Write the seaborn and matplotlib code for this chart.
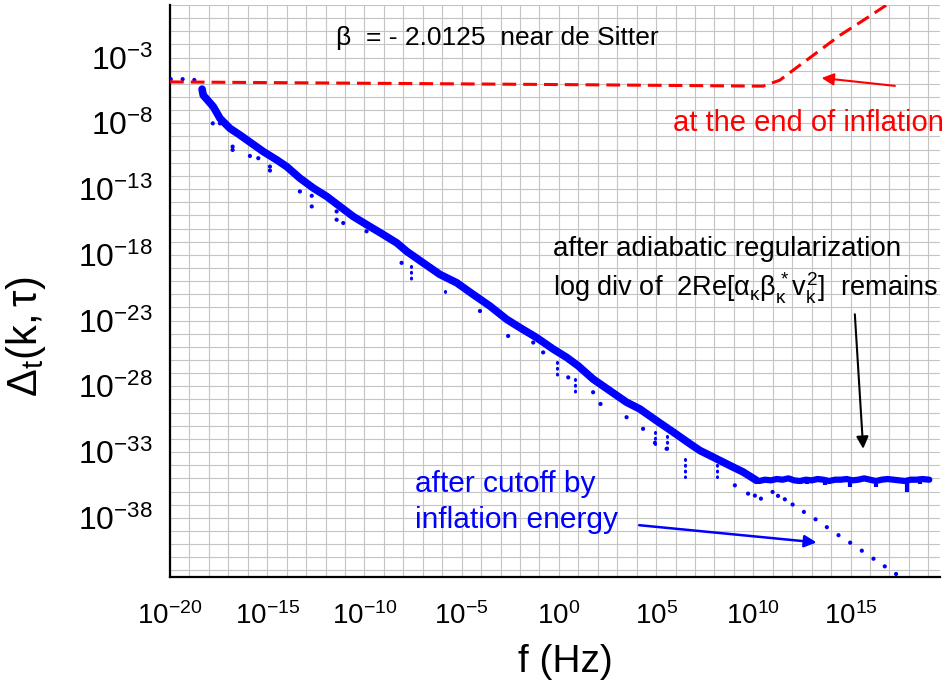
import numpy as np
import matplotlib
matplotlib.use("Agg")
import matplotlib.pyplot as plt
import seaborn as sns
from matplotlib.ticker import FixedLocator, FuncFormatter, NullFormatter

# all values are log10

# main blue band (centre of the dense cloud)
band_logf = [-18.35, -18.29, -17.77, -17.43, -16.92, -16.40, -15.80, -15.20, -14.51,
             -14.00, -13.32, -12.63, -11.94, -11.26, -10.58, -9.89, -9.03, -8.34,
             -7.83, -6.98, -6.12, -5.26, -4.41, -3.55, -2.69, -2.01, -1.15, -0.29,
             0.40, 0.99, 1.76, 2.62, 3.48, 4.16, 5.02, 5.88, 6.74, 7.25, 7.93,
             8.79, 9.48, 10.16]
band_logd = [-5.40, -5.86, -6.74, -7.62, -8.38, -8.89, -9.52, -10.15, -10.78,
             -11.29, -12.17, -12.92, -13.56, -14.32, -15.08, -15.70, -16.46, -17.09,
             -17.73, -18.61, -19.49, -20.12, -21.01, -21.89, -22.90, -23.53, -24.29, -25.17,
             -25.80, -26.44, -27.45, -28.33, -29.21, -29.72, -30.61, -31.48, -32.37, -32.88, -33.38,
             -34.02, -34.52, -35.15]

# flat part after adiabatic regularization
flat_logf = [10.3, 10.6, 10.9, 11.2, 11.5, 11.8, 12.1, 12.4, 12.7, 13.0, 13.3, 13.6,
             13.9, 14.2, 14.5, 14.8, 15.1, 15.4, 15.7, 16.0, 16.3, 16.6, 16.9, 17.2,
             17.5, 17.8, 18.1, 18.4, 18.7, 19.05]
flat_logd = [-35.20, -35.10, -35.15, -35.05, -35.10, -35.00, -35.15, -35.20, -35.10, -35.15,
             -35.05, -35.10, -35.20, -35.10, -35.10, -35.05, -35.15, -35.10, -35.00, -35.10,
             -35.20, -35.10, -35.05, -35.10, -35.15, -35.20, -35.10, -35.10, -35.05, -35.10]
dip_logf = [12.74, 13.68, 14.96, 16.33, 17.88, 18.56]
dip_logd = [-35.40, -35.53, -35.65, -35.65, -36.03, -35.40]

# scattered points below the band
out_logf = [-19.96, -19.35, -18.75, -17.80, -17.43, -16.78, -16.78, -15.89, -15.46, -14.86,
            -14.86, -13.32, -12.71, -12.71, -11.43, -11.43, -11.09, -9.89, -8.09, -4.06,
            -2.61, -1.32, -0.81, 0.48, 1.76, 2.14, 3.48, 4.33, 4.94, 5.54,
            9.05, 9.73, 10.08, 10.39, 10.99, 11.27]
out_logd = [-4.64, -4.64, -4.70, -8.00, -8.00, -9.77, -10.02, -10.48, -10.65, -11.29,
            -11.59, -13.18, -13.51, -14.32, -14.70, -15.33, -15.58, -16.21, -18.61, -22.27,
            -24.17, -24.67, -25.42, -27.32, -28.45, -29.34, -30.35, -31.23, -32.30, -32.75,
            -35.53, -36.16, -36.31, -36.54, -36.03, -36.33]

# vertical dotted spikes: position, top, bottom
spike_logf = [-7.62, -5.86, -0.12, 0.85, 4.94, 5.54, 6.50, 8.11]
spike_top = [-18.86, -20.76, -26.18, -27.45, -31.50, -31.80, -33.51, -33.51]
spike_bot = [-19.87, -21.01, -27.20, -28.45, -32.40, -33.00, -34.89, -34.89]

# cutoff by inflation energy
cut_logf = [11.62, 12.02, 12.60, 13.20, 13.78, 14.38, 14.98, 15.58, 16.18, 16.76, 17.34]
cut_logd = [-36.59, -36.99, -37.55, -38.11, -38.71, -39.32, -39.89, -40.50, -41.11, -41.69, -42.27]

# red dashed curve, beta near de Sitter
red_logf = [-20.0, -10.0, 0.0, 10.50, 11.36, 12.39, 13.42, 14.45, 15.65, 16.85]
red_logd = [-4.85, -4.95, -5.05, -5.17, -4.72, -3.58, -2.45, -1.31, -0.17, 1.00]

xmajor = [-20, -15, -10, -5, 0, 5, 10, 15]
ymajor = [-38, -33, -28, -23, -18, -13, -8, -3]

sns.set_style("white")
plt.rcParams['font.family'] = ['Liberation Sans', 'DejaVu Sans']
plt.rcParams['mathtext.fontset'] = 'custom'
plt.rcParams['mathtext.rm'] = 'Liberation Sans'
plt.rcParams['mathtext.it'] = 'Liberation Sans'
plt.rcParams['mathtext.bf'] = 'Liberation Sans:bold'
for key in ['text.color', 'axes.labelcolor', 'xtick.color', 'ytick.color']:
    plt.rcParams[key] = 'black'

BLUE = '#0000ff'
RED = '#ff0000'

fig = plt.figure(figsize=(9.51, 6.90), dpi=100)
ax = fig.add_axes([170 / 951, 1 - 577 / 690, (940 - 170) / 951, (577 - 5) / 690])
ax.set_xscale('log')
ax.set_yscale('log')


def p(vals):
    return 10.0 ** np.array(vals)


# red dashed line
sns.lineplot(x=p(red_logf), y=p(red_logd), sort=False, estimator=None, ax=ax,
             color=RED, lw=2.2, zorder=4)
ax.lines[-1].set_dashes((4.5, 2.3))

# blue band
sns.lineplot(x=p(band_logf), y=p(band_logd), sort=False, estimator=None, ax=ax,
             color=BLUE, lw=5.5, zorder=3)
sns.lineplot(x=p(flat_logf), y=p(flat_logd), sort=False, estimator=None, ax=ax,
             color=BLUE, lw=4.5, zorder=3)
ax.vlines(p(dip_logf), p([-35.1] * len(dip_logf)), p(dip_logd), color=BLUE, lw=3, zorder=3)
sp = ax.vlines(p(spike_logf), p(spike_top), p(spike_bot), color=BLUE, lw=2.2,
               linestyles=(0, (0.3, 1.6)), zorder=3)
sp.set_capstyle('round')
sns.scatterplot(x=p(out_logf), y=p(out_logd), ax=ax, color=BLUE, s=9,
                edgecolor='none', zorder=3)
sns.scatterplot(x=p(cut_logf), y=p(cut_logd), ax=ax, color=BLUE, s=9,
                edgecolor='none', zorder=3)

ax.set_xlim(1e-20, 10 ** 19.6)
ax.set_ylim(10 ** -42.5, 1e1)

ax.xaxis.set_major_locator(FixedLocator(p(xmajor)))
ax.xaxis.set_minor_locator(FixedLocator(p(list(range(-20, 20)))))
ax.yaxis.set_major_locator(FixedLocator(p(ymajor)))
ax.yaxis.set_minor_locator(FixedLocator(p(list(range(-42, 2)))))
fmt = FuncFormatter(lambda v, pos: r"$10^{%d}$" % int(round(np.log10(v))))
ax.xaxis.set_major_formatter(fmt)
ax.yaxis.set_major_formatter(fmt)
ax.xaxis.set_minor_formatter(NullFormatter())
ax.yaxis.set_minor_formatter(NullFormatter())

ax.grid(True, which='both', color='#c4c4c4', lw=0.8, zorder=0)
ax.set_axisbelow(True)
for s in ['top', 'right']:
    ax.spines[s].set_visible(False)
for s in ['left', 'bottom']:
    ax.spines[s].set_color('black')
    ax.spines[s].set_linewidth(1.6)
ax.tick_params(which='major', direction='out', length=8, width=1.5, color='black')
ax.tick_params(which='minor', direction='out', length=5, width=1.5, color='black')
ax.tick_params(axis='x', which='major', labelsize=20, pad=10)
ax.tick_params(axis='y', which='major', labelsize=23, pad=4)

ax.set_xlabel('f (Hz)', fontsize=28)
ax.xaxis.set_label_coords(0.513, -0.117)
ax.set_ylabel(r'$\Delta_t(k,\tau)$', fontsize=30)
ax.yaxis.set_label_coords(-0.158, 0.42)

# annotations
ax.text(10 ** -11.47, 10 ** -1.5, u'\u03b2  = - 2.0125  near de Sitter', fontsize=19,
        va='center', ha='left')
ax.text(10 ** 5.85, 10 ** -8.58, 'at the end of inflation', fontsize=21,
        va='baseline', ha='left', color=RED)
ax.text(10 ** -0.29, 10 ** -18.11, 'after adiabatic regularization', fontsize=20,
        va='baseline', ha='left')
ax.text(10 ** -0.29, 10 ** -21.14,
        r'log div of  2Re[$\alpha_\kappa\beta_\kappa^*v_k^2$]  remains', fontsize=19.5,
        va='baseline', ha='left')
ax.text(10 ** -7.40, 10 ** -36.03, 'after cutoff by', fontsize=21.5,
        va='baseline', ha='left', color=BLUE)
ax.text(10 ** -7.40, 10 ** -38.81, 'inflation energy', fontsize=21.5,
        va='baseline', ha='left', color=BLUE)

arrow = dict(arrowstyle='-|>', mutation_scale=18, shrinkA=0, shrinkB=0)
ax.annotate('', xy=(10 ** 13.51, 10 ** -4.55), xytext=(10 ** 17.28, 10 ** -5.15),
            arrowprops=dict(arrow, color=RED, lw=1.5))
ax.annotate('', xy=(10 ** 15.65, 10 ** -32.75), xytext=(10 ** 15.22, 10 ** -22.52),
            arrowprops=dict(arrow, color='black', lw=1.5))
ax.annotate('', xy=(10 ** 13.25, 10 ** -39.87), xytext=(10 ** 4.13, 10 ** -38.56),
            arrowprops=dict(arrow, color=BLUE, lw=1.8))

fig.savefig('out.png', dpi=100)
